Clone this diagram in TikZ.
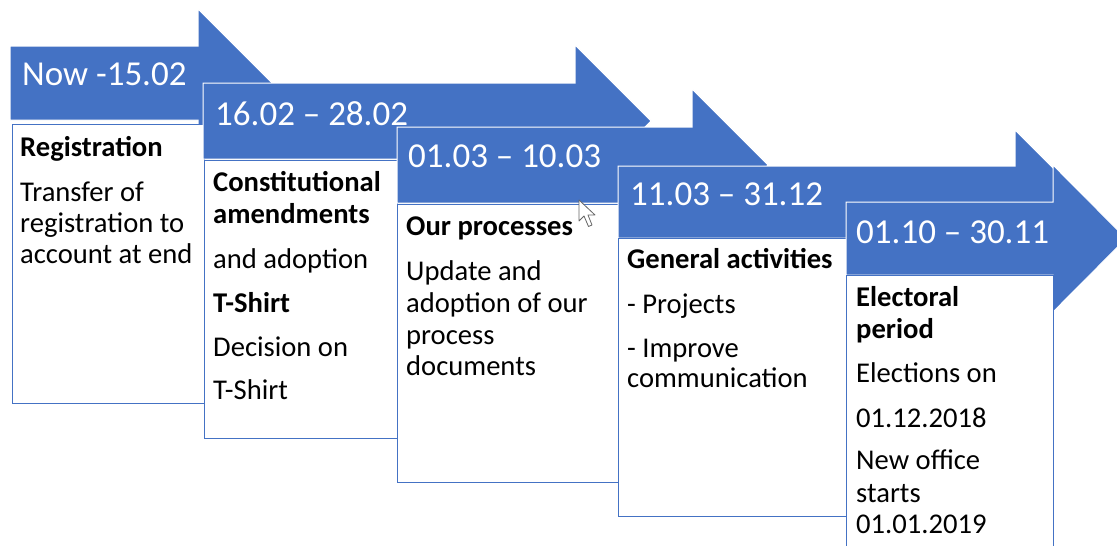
\documentclass[tikz,border=0pt]{standalone}
\usepackage{fontspec}
\setmainfont{Carlito}
\definecolor{ofblue}{HTML}{4472C4}
\begin{document}
\begin{tikzpicture}[x=1pt,y=-1pt,
  hdr/.style={anchor=base west, inner sep=0pt, text=white, font=\fontsize{35}{40}\selectfont},
  txt/.style={anchor=base west, inner sep=0pt, text=black, font=\fontsize{28.6}{32}\selectfont},
  btxt/.style={txt, font=\fontsize{28.6}{32}\selectfont\bfseries},
  arrowshape/.style={fill=ofblue, draw=white, line width=1pt, line join=miter},
  card/.style={fill=white, draw=ofblue, line width=1pt},
  cursorshape/.style={fill=white, draw=black!60, line width=0.8pt, line join=round}]
\useasboundingbox (0,0) rectangle (1117,546);
\clip (0,0) rectangle (1117,546);

% stage 1
\filldraw[arrowshape] (10,46) -- (198,46) -- (198,9) -- (272,83) -- (198,157) -- (198,120) -- (10,120) -- cycle;
\filldraw[card] (12,124) rectangle (204,403);
\node[hdr] (h1) at (22,85) {Now -15.02};
\node[btxt] (t1a) at (20,156) {Registration};
\node[txt] (t1b) at (20,201) {Transfer of};
\node[txt] (t1c) at (20,232) {registration to};
\node[txt] (t1d) at (20,263) {account at end};

% stage 2
\filldraw[arrowshape] (203,83) -- (575,83) -- (575,45) -- (651,121) -- (575,197) -- (575,159) -- (203,159) -- cycle;
\filldraw[card] (204,160) rectangle (397,438);
\node[hdr] (h2) at (215,125) {16.02 – 28.02};
\node[btxt] (t2a) at (213,191) {Constitutional};
\node[btxt] (t2b) at (213,223) {amendments};
\node[txt] (t2c) at (213,268) {and adoption};
\node[btxt] (t2d) at (213,312) {T-Shirt};
\node[txt] (t2e) at (213,356) {Decision on};
\node[txt] (t2f) at (213,399) {T-Shirt};

% stage 3
\filldraw[arrowshape] (397,127) -- (692,127) -- (692,89) -- (768,165) -- (692,241) -- (692,203) -- (397,203) -- cycle;
\filldraw[card] (397,204) rectangle (618,482);
\node[hdr] (h3) at (408,167) {01.03 – 10.03};
\node[btxt] (t3a) at (406,235) {Our processes};
\node[txt] (t3b) at (406,280) {Update and};
\node[txt] (t3c) at (406,312) {adoption of our};
\node[txt] (t3d) at (406,344) {process};
\node[txt] (t3e) at (406,375) {documents};

% stage 4
\filldraw[arrowshape] (618,166) -- (1015,166) -- (1015,130) -- (1087,202) -- (1015,274) -- (1015,238) -- (618,238) -- cycle;
\filldraw[card] (618,238) rectangle (846,516);
\node[hdr] (h4) at (630,205) {11.03 – 31.12};
\node[btxt] (t4a) at (627,268) {General activities};
\node[txt] (t4b) at (627,313) {- Projects};
\node[txt] (t4c) at (627,357) {- Improve};
\node[txt] (t4d) at (627,387) {communication};

% stage 5
\filldraw[arrowshape] (846,202) -- (1053,202) -- (1053,165) -- (1126,238.5) -- (1053,312) -- (1053,275) -- (846,275) -- cycle;
\filldraw[card] (846,275) rectangle (1053,560);
\node[hdr] (h5) at (856,243) {01.10 – 30.11};
\node[btxt] (t5a) at (856,306) {Electoral};
\node[btxt] (t5b) at (856,338) {period};
\node[txt] (t5c) at (856,382) {Elections on};
\node[txt] (t5d) at (856,427) {01.12.2018};
\node[txt] (t5e) at (856,469) {New office};
\node[txt] (t5f) at (856,502) {starts};
\node[txt] (t5g) at (856,533) {01.01.2019};

% mouse pointer
\filldraw[cursorshape] (579,200) -- (579,221) -- (584,216) -- (588.5,226.5) -- (592,225) -- (588,215) -- (595,215) -- cycle;
\end{tikzpicture}
\end{document}
